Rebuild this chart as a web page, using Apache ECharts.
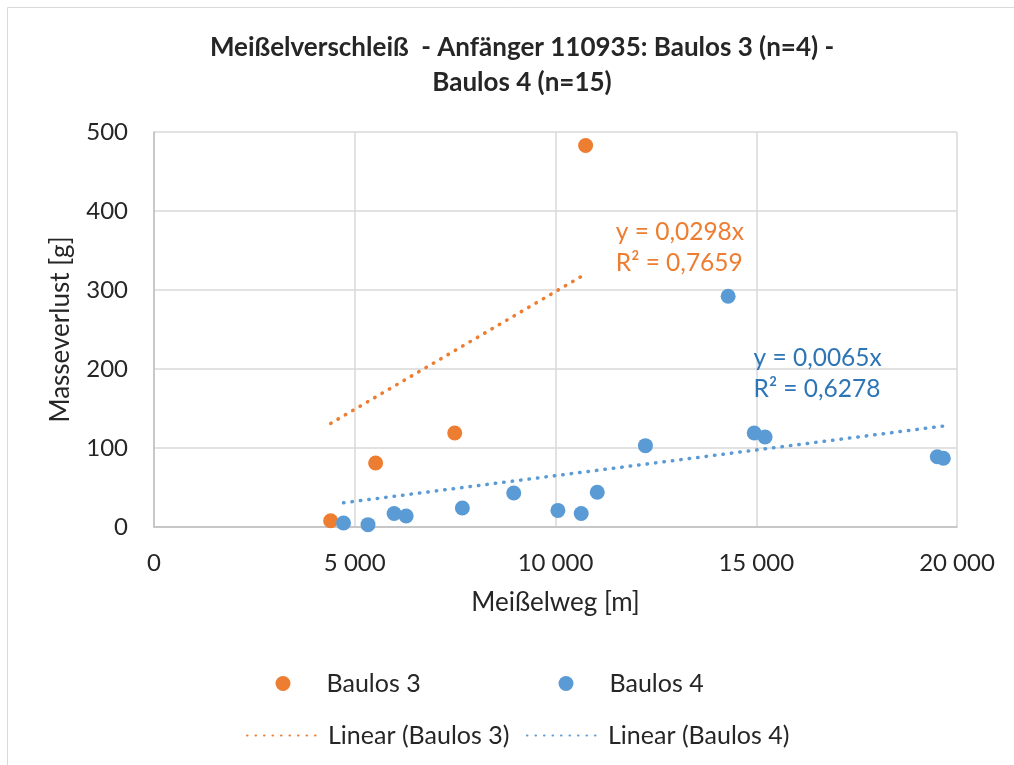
<!DOCTYPE html>
<html>
<head>
<meta charset="utf-8">
<script src="https://cdn.jsdelivr.net/npm/echarts@6/dist/echarts.min.js"></script>
<style>
  html, body { margin: 0; padding: 0; background: #fff; }
  #chart { width: 1014px; height: 765px; }
</style>
</head>
<body>
<div id="chart"></div>
<script>
// Meißelweg [m] und Masseverlust [g] je Meißel
const baulos3X = [4400, 5520, 7490, 10750];
const baulos3Y = [8, 81, 119, 483];
const baulos4X = [4720, 5330, 5980, 6280, 7680, 8960, 10060, 10640, 11040, 12240, 14300, 14950, 15220, 19510, 19660];
const baulos4Y = [5, 3, 17, 14, 24, 43, 21, 17, 44, 103, 292, 119, 114, 89, 87];

// lineare Trends durch den Ursprung (Steigung und Bestimmtheitsmaß)
const slope3 = 0.0298, r2Baulos3 = '0,7659';
const slope4 = 0.0065, r2Baulos4 = '0,6278';

const xTicks = [0, 5000, 10000, 15000, 20000];
const yTicks = [0, 100, 200, 300, 400, 500];

const FONT = 'Lato, "Noto Sans", sans-serif';
const ORANGE = '#ED7D31';
const BLUE = '#5B9BD5';
const TEXT = '#262626';

const pairs = (xs, ys) => xs.map((x, i) => [x, ys[i]]);
const trend = (xs, k) => {
  const lo = Math.min(...xs), hi = Math.max(...xs);
  return [[lo, k * lo], [hi, k * hi]];
};
const fmtNum = (v, d) => v.toFixed(d).replace('.', ',');
const thousands = v => String(v).replace(/\B(?=(\d{3})+(?!\d))/g, ' ');

const dotted = color => ({ color: color, width: 3.5, type: [0.5, 8], cap: 'round' });

const legendBase = {
  orient: 'horizontal',
  padding: 0,
  selectedMode: false,
  textStyle: { fontFamily: FONT, fontSize: 25, color: TEXT }
};
// Punkt-Legende: Kreis 15 px, Text mit Abstand dahinter
const markerLegend = (name, left) => Object.assign({}, legendBase, {
  data: [{ name: name, icon: 'circle' }],
  left: left, top: 671, itemWidth: 15, itemHeight: 15,
  textStyle: Object.assign({}, legendBase.textStyle, { padding: [0, 0, 0, 31] })
});
// Linien-Legende: nur die gepunktete Linie
const lineLegend = (name, left) => Object.assign({}, legendBase, {
  data: [name],
  left: left, top: 723, itemWidth: 76, itemHeight: 15,
  itemStyle: { opacity: 0 }
});

const chart = echarts.init(document.getElementById('chart'), null, { renderer: 'canvas' });
chart.setOption({
  backgroundColor: '#ffffff',
  animation: false,
  title: {
    text: 'Meißelverschleiß  - Anfänger 110935: Baulos 3 (n=4) -\nBaulos 4 (n=15)',
    left: 517,
    top: 25,
    textAlign: 'center',
    textStyle: { fontFamily: FONT, fontSize: 26, fontWeight: 'bold', color: TEXT, lineHeight: 35 }
  },
  graphic: [{
    type: 'rect',
    shape: { x: 7.5, y: 7.5, width: 1100, height: 800 },
    style: { fill: 'none', stroke: '#D9D9D9', lineWidth: 1 },
    silent: true
  }],
  grid: { left: 154, right: 57, top: 132, bottom: 238, containLabel: false },
  xAxis: {
    type: 'value',
    min: xTicks[0],
    max: xTicks[xTicks.length - 1],
    interval: xTicks[1] - xTicks[0],
    name: 'Meißelweg [m]',
    nameLocation: 'middle',
    nameGap: 63,
    nameTextStyle: { fontFamily: FONT, fontSize: 26, color: TEXT },
    axisLine: { show: true, lineStyle: { color: '#BFBFBF', width: 1.5 } },
    axisTick: { show: false },
    splitLine: { show: true, lineStyle: { color: '#D9D9D9', width: 1.5 } },
    axisLabel: { fontFamily: FONT, fontSize: 24, color: TEXT, margin: 24, formatter: v => thousands(v) }
  },
  yAxis: {
    type: 'value',
    min: yTicks[0],
    max: yTicks[yTicks.length - 1],
    interval: yTicks[1] - yTicks[0],
    name: 'Masseverlust [g]',
    nameLocation: 'middle',
    nameGap: 80,
    nameTextStyle: { fontFamily: FONT, fontSize: 26, color: TEXT },
    axisLine: { show: true, lineStyle: { color: '#BFBFBF', width: 1.5 } },
    axisTick: { show: false },
    splitLine: { show: true, lineStyle: { color: '#D9D9D9', width: 1.5 } },
    axisLabel: { fontFamily: FONT, fontSize: 24, color: TEXT, margin: 26 }
  },
  legend: [
    markerLegend('Baulos 3', 275.5),
    markerLegend('Baulos 4', 558.5),
    lineLegend('Linear (Baulos 3)', 246),
    lineLegend('Linear (Baulos 4)', 526)
  ],
  series: [
    {
      name: 'Baulos 3',
      type: 'scatter',
      symbol: 'circle',
      symbolSize: 15,
      itemStyle: { color: ORANGE, opacity: 1 },
      data: pairs(baulos3X, baulos3Y),
      z: 3
    },
    {
      name: 'Baulos 4',
      type: 'scatter',
      symbol: 'circle',
      symbolSize: 15,
      itemStyle: { color: BLUE, opacity: 1 },
      data: pairs(baulos4X, baulos4Y),
      z: 3
    },
    {
      name: 'Linear (Baulos 3)',
      type: 'line',
      symbol: 'none',
      color: ORANGE,
      lineStyle: dotted(ORANGE),
      data: trend(baulos3X, slope3),
      z: 2,
      markPoint: {
        symbol: 'circle',
        symbolSize: 1,
        itemStyle: { color: 'rgba(0,0,0,0)' },
        data: [{
          coord: [11490, 354],
          label: {
            show: true, position: 'right', distance: 0,
            formatter: 'y = ' + fmtNum(slope3, 4) + 'x\nR² = ' + r2Baulos3,
            fontFamily: FONT, fontSize: 24.5, lineHeight: 31, color: ORANGE
          }
        }]
      }
    },
    {
      name: 'Linear (Baulos 4)',
      type: 'line',
      symbol: 'none',
      color: BLUE,
      lineStyle: dotted(BLUE),
      data: trend(baulos4X, slope4),
      z: 2,
      markPoint: {
        symbol: 'circle',
        symbolSize: 1,
        itemStyle: { color: 'rgba(0,0,0,0)' },
        data: [{
          coord: [14920, 194],
          label: {
            show: true, position: 'right', distance: 0,
            formatter: 'y = ' + fmtNum(slope4, 4) + 'x\nR² = ' + r2Baulos4,
            fontFamily: FONT, fontSize: 24.5, lineHeight: 31, color: '#2E75B6'
          }
        }]
      }
    }
  ]
});
</script>
</body>
</html>
